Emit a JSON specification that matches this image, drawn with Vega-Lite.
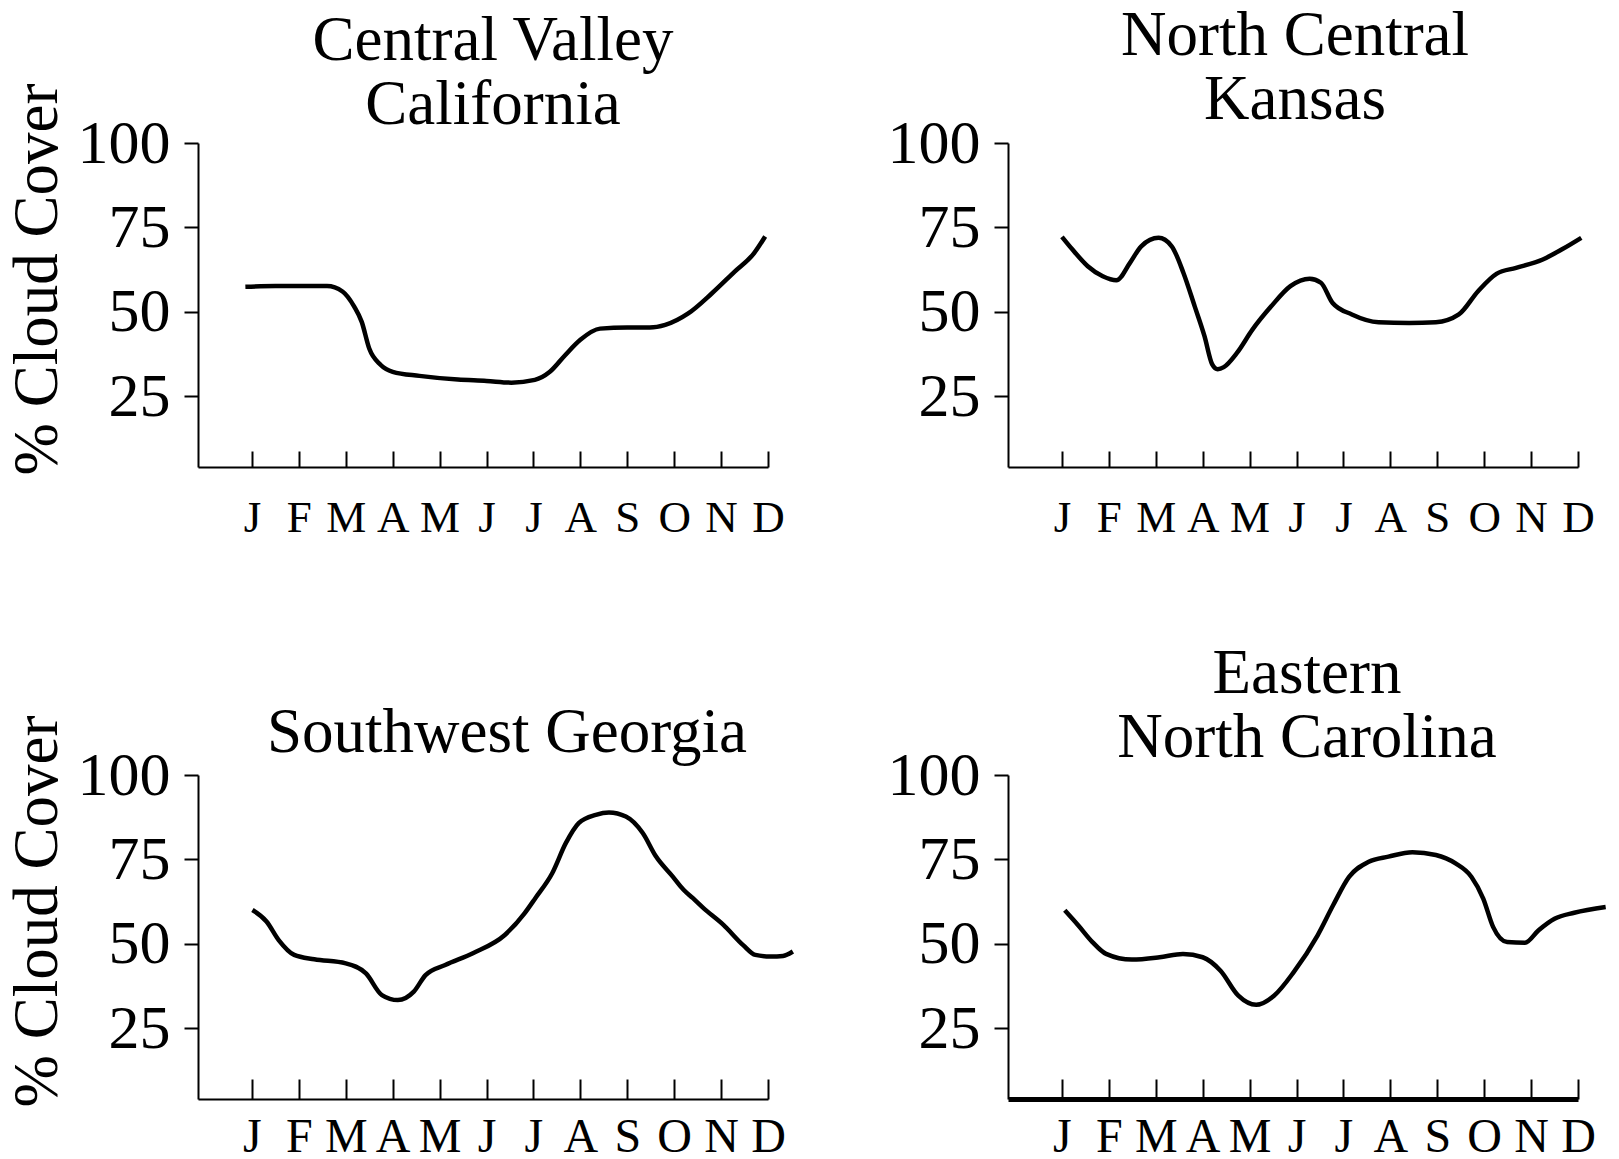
{
  "$schema": "https://vega.github.io/schema/vega-lite/v6.json",
  "background": "white",
  "padding": {"left": 6, "top": 5, "right": 5, "bottom": 5},
  "data": {"values": [
    {"region": "CA", "month": 0.86, "cover": 57.4},
    {"region": "CA", "month": 1.5, "cover": 57.6},
    {"region": "CA", "month": 2.0, "cover": 57.6},
    {"region": "CA", "month": 2.6, "cover": 57.6},
    {"region": "CA", "month": 2.93, "cover": 56},
    {"region": "CA", "month": 3.18, "cover": 51.5},
    {"region": "CA", "month": 3.34, "cover": 47},
    {"region": "CA", "month": 3.5, "cover": 39.1},
    {"region": "CA", "month": 3.74, "cover": 34.3},
    {"region": "CA", "month": 4.0, "cover": 32.2},
    {"region": "CA", "month": 4.57, "cover": 31},
    {"region": "CA", "month": 5.39, "cover": 29.9},
    {"region": "CA", "month": 6.0, "cover": 29.5},
    {"region": "CA", "month": 6.53, "cover": 29},
    {"region": "CA", "month": 7.03, "cover": 29.8},
    {"region": "CA", "month": 7.35, "cover": 32.2},
    {"region": "CA", "month": 7.68, "cover": 37.2},
    {"region": "CA", "month": 8.0, "cover": 41.7},
    {"region": "CA", "month": 8.42, "cover": 45},
    {"region": "CA", "month": 9.0, "cover": 45.3},
    {"region": "CA", "month": 9.48, "cover": 45.3},
    {"region": "CA", "month": 9.81, "cover": 46.1},
    {"region": "CA", "month": 10.3, "cover": 49.5},
    {"region": "CA", "month": 10.8, "cover": 55.4},
    {"region": "CA", "month": 11.29, "cover": 61.9},
    {"region": "CA", "month": 11.7, "cover": 67.3},
    {"region": "CA", "month": 11.94, "cover": 72.3},

    {"region": "KS", "month": 1.0, "cover": 72.2},
    {"region": "KS", "month": 1.22, "cover": 68.5},
    {"region": "KS", "month": 1.55, "cover": 63.5},
    {"region": "KS", "month": 1.87, "cover": 60.5},
    {"region": "KS", "month": 2.16, "cover": 59.3},
    {"region": "KS", "month": 2.45, "cover": 64.5},
    {"region": "KS", "month": 2.69, "cover": 69.4},
    {"region": "KS", "month": 3.06, "cover": 71.9},
    {"region": "KS", "month": 3.34, "cover": 69.4},
    {"region": "KS", "month": 3.59, "cover": 61.5},
    {"region": "KS", "month": 3.83, "cover": 51.6},
    {"region": "KS", "month": 4.04, "cover": 42.7},
    {"region": "KS", "month": 4.2, "cover": 34.5},
    {"region": "KS", "month": 4.32, "cover": 33.0},
    {"region": "KS", "month": 4.45, "cover": 33.6},
    {"region": "KS", "month": 4.73, "cover": 37.8},
    {"region": "KS", "month": 5.06, "cover": 44.7},
    {"region": "KS", "month": 5.46, "cover": 51.6},
    {"region": "KS", "month": 5.87, "cover": 57.6},
    {"region": "KS", "month": 6.28, "cover": 59.8},
    {"region": "KS", "month": 6.52, "cover": 58.6},
    {"region": "KS", "month": 6.77, "cover": 52.6},
    {"region": "KS", "month": 7.18, "cover": 49.2},
    {"region": "KS", "month": 7.75, "cover": 46.9},
    {"region": "KS", "month": 8.4, "cover": 46.7},
    {"region": "KS", "month": 8.97, "cover": 46.9},
    {"region": "KS", "month": 9.46, "cover": 49.2},
    {"region": "KS", "month": 9.87, "cover": 56.1},
    {"region": "KS", "month": 10.27, "cover": 61.3},
    {"region": "KS", "month": 10.68, "cover": 63},
    {"region": "KS", "month": 11.25, "cover": 65.5},
    {"region": "KS", "month": 11.66, "cover": 68.5},
    {"region": "KS", "month": 12.07, "cover": 71.9},

    {"region": "GA", "month": 1.01, "cover": 60},
    {"region": "GA", "month": 1.31, "cover": 56.6},
    {"region": "GA", "month": 1.57, "cover": 51.1},
    {"region": "GA", "month": 1.9, "cover": 46.7},
    {"region": "GA", "month": 2.33, "cover": 45.4},
    {"region": "GA", "month": 3.0, "cover": 44.2},
    {"region": "GA", "month": 3.43, "cover": 41.2},
    {"region": "GA", "month": 3.77, "cover": 34.8},
    {"region": "GA", "month": 4.11, "cover": 33.3},
    {"region": "GA", "month": 4.45, "cover": 35.8},
    {"region": "GA", "month": 4.7, "cover": 40.7},
    {"region": "GA", "month": 5.12, "cover": 43.7},
    {"region": "GA", "month": 5.71, "cover": 47.2},
    {"region": "GA", "month": 6.39, "cover": 52.6},
    {"region": "GA", "month": 6.81, "cover": 59},
    {"region": "GA", "month": 7.04, "cover": 63.5},
    {"region": "GA", "month": 7.4, "cover": 70.9},
    {"region": "GA", "month": 7.69, "cover": 79.8},
    {"region": "GA", "month": 7.97, "cover": 85.8},
    {"region": "GA", "month": 8.33, "cover": 88.2},
    {"region": "GA", "month": 8.61, "cover": 88.9},
    {"region": "GA", "month": 8.97, "cover": 87.7},
    {"region": "GA", "month": 9.33, "cover": 82.8},
    {"region": "GA", "month": 9.61, "cover": 75.9},
    {"region": "GA", "month": 9.97, "cover": 69.9},
    {"region": "GA", "month": 10.2, "cover": 66},
    {"region": "GA", "month": 10.4, "cover": 63.5},
    {"region": "GA", "month": 10.63, "cover": 60.5},
    {"region": "GA", "month": 11.05, "cover": 55.6},
    {"region": "GA", "month": 11.47, "cover": 49.6},
    {"region": "GA", "month": 11.73, "cover": 46.7},
    {"region": "GA", "month": 12.06, "cover": 46.2},
    {"region": "GA", "month": 12.32, "cover": 46.4},
    {"region": "GA", "month": 12.53, "cover": 47.7},

    {"region": "NC", "month": 1.06, "cover": 59.9},
    {"region": "NC", "month": 1.35, "cover": 55.4},
    {"region": "NC", "month": 1.65, "cover": 50.5},
    {"region": "NC", "month": 1.94, "cover": 47},
    {"region": "NC", "month": 2.49, "cover": 45.3},
    {"region": "NC", "month": 3.08, "cover": 46},
    {"region": "NC", "month": 3.58, "cover": 47},
    {"region": "NC", "month": 4.0, "cover": 46},
    {"region": "NC", "month": 4.38, "cover": 42},
    {"region": "NC", "month": 4.76, "cover": 34.6},
    {"region": "NC", "month": 5.14, "cover": 31.9},
    {"region": "NC", "month": 5.52, "cover": 34.6},
    {"region": "NC", "month": 5.94, "cover": 41.6},
    {"region": "NC", "month": 6.45, "cover": 52.5},
    {"region": "NC", "month": 6.78, "cover": 61.4},
    {"region": "NC", "month": 7.12, "cover": 69.8},
    {"region": "NC", "month": 7.54, "cover": 74.3},
    {"region": "NC", "month": 7.96, "cover": 75.8},
    {"region": "NC", "month": 8.47, "cover": 77.1},
    {"region": "NC", "month": 8.97, "cover": 76.3},
    {"region": "NC", "month": 9.39, "cover": 73.8},
    {"region": "NC", "month": 9.73, "cover": 69.8},
    {"region": "NC", "month": 9.98, "cover": 63.4},
    {"region": "NC", "month": 10.19, "cover": 55},
    {"region": "NC", "month": 10.49, "cover": 50.5},
    {"region": "NC", "month": 10.87, "cover": 50.3},
    {"region": "NC", "month": 11.16, "cover": 54},
    {"region": "NC", "month": 11.5, "cover": 57.4},
    {"region": "NC", "month": 11.92, "cover": 59.2},
    {"region": "NC", "month": 12.59, "cover": 60.9}
  ]},
  "columns": 2,
  "spacing": {"row": 308, "column": 240},
  "bounds": "flush",
  "concat": [
    {
      "width": 570, "height": 324,
      "transform": [{"filter": "datum.region === 'CA'"}],
      "title": {"text": ["Central Valley", "California"], "dx": 10, "offset": -54},
      "mark": {"type": "line", "interpolate": "monotone", "strokeWidth": 4.5, "color": "black"},
      "encoding": {
        "x": {"field": "month", "type": "quantitative", "scale": {"domain": [-0.15, 12], "nice": false, "zero": false},
              "axis": {"values": [1,2,3,4,5,6,7,8,9,10,11,12], "title": null, "labelExpr": "['J','F','M','A','M','J','J','A','S','O','N','D'][datum.value - 1]"}},
        "y": {"field": "cover", "type": "quantitative", "scale": {"domain": [4, 100], "nice": false, "zero": false},
              "axis": {"values": [25, 50, 75, 100], "title": "% Cloud Cover", "titleX": -142, "titleY": 136}}
      }
    },
    {
      "width": 570, "height": 324,
      "transform": [{"filter": "datum.region === 'KS'"}],
      "title": {"text": ["North Central", "Kansas"], "dx": 2, "offset": -20},
      "mark": {"type": "line", "interpolate": "monotone", "strokeWidth": 4.5, "color": "black"},
      "encoding": {
        "x": {"field": "month", "type": "quantitative", "scale": {"domain": [-0.15, 12], "nice": false, "zero": false},
              "axis": {"values": [1,2,3,4,5,6,7,8,9,10,11,12], "title": null, "labelExpr": "['J','F','M','A','M','J','J','A','S','O','N','D'][datum.value - 1]"}},
        "y": {"field": "cover", "type": "quantitative", "scale": {"domain": [4, 100], "nice": false, "zero": false},
              "axis": {"values": [25, 50, 75, 100], "title": null}}
      }
    },
    {
      "width": 570, "height": 324,
      "transform": [{"filter": "datum.region === 'GA'"}],
      "title": {"text": ["Southwest Georgia"], "dx": 24, "offset": -50},
      "mark": {"type": "line", "interpolate": "monotone", "strokeWidth": 4.5, "color": "black"},
      "encoding": {
        "x": {"field": "month", "type": "quantitative", "scale": {"domain": [-0.15, 12], "nice": false, "zero": false},
              "axis": {"values": [1,2,3,4,5,6,7,8,9,10,11,12], "title": null, "tickSize": -20, "labelPadding": 34, "labelFontSize": 48, "labelExpr": "['J','F','M','A','M','J','J','A','S','O','N','D'][datum.value - 1]"}},
        "y": {"field": "cover", "type": "quantitative", "scale": {"domain": [4, 100], "nice": false, "zero": false},
              "axis": {"values": [25, 50, 75, 100], "title": "% Cloud Cover", "titleX": -142, "titleY": 136}}
      }
    },
    {
      "width": 570, "height": 324,
      "transform": [{"filter": "datum.region === 'NC'"}],
      "title": {"text": ["Eastern", "North Carolina"], "dx": 14, "offset": -26},
      "mark": {"type": "line", "interpolate": "monotone", "strokeWidth": 4.5, "color": "black"},
      "encoding": {
        "x": {"field": "month", "type": "quantitative", "scale": {"domain": [-0.15, 12], "nice": false, "zero": false},
              "axis": {"values": [1,2,3,4,5,6,7,8,9,10,11,12], "title": null, "domainWidth": 5, "tickSize": -20, "labelPadding": 34, "labelFontSize": 48, "labelExpr": "['J','F','M','A','M','J','J','A','S','O','N','D'][datum.value - 1]"}},
        "y": {"field": "cover", "type": "quantitative", "scale": {"domain": [4, 100], "nice": false, "zero": false},
              "axis": {"values": [25, 50, 75, 100], "title": null}}
      }
    }
  ],
  "config": {
    "font": "Liberation Serif",
    "view": {"stroke": null},
    "title": {"font": "Liberation Serif", "fontSize": 63, "fontWeight": "normal", "color": "black", "anchor": "middle", "frame": "group", "baseline": "bottom", "lineHeight": 64},
    "axis": {"grid": false, "domainColor": "black", "tickColor": "black", "labelColor": "black", "titleColor": "black",
             "labelFont": "Liberation Serif", "titleFont": "Liberation Serif", "titleFontWeight": "normal",
             "domainWidth": 2, "tickWidth": 2, "labelOverlap": false, "labelFlush": false},
    "axisX": {"tickSize": -16, "labelPadding": 44, "labelFontSize": 45},
    "axisY": {"tickSize": 14, "labelPadding": 14, "labelFontSize": 62, "titleFontSize": 63, "titleBaseline": "alphabetic", "titleAlign": "center", "titleAngle": -90}
  }
}
